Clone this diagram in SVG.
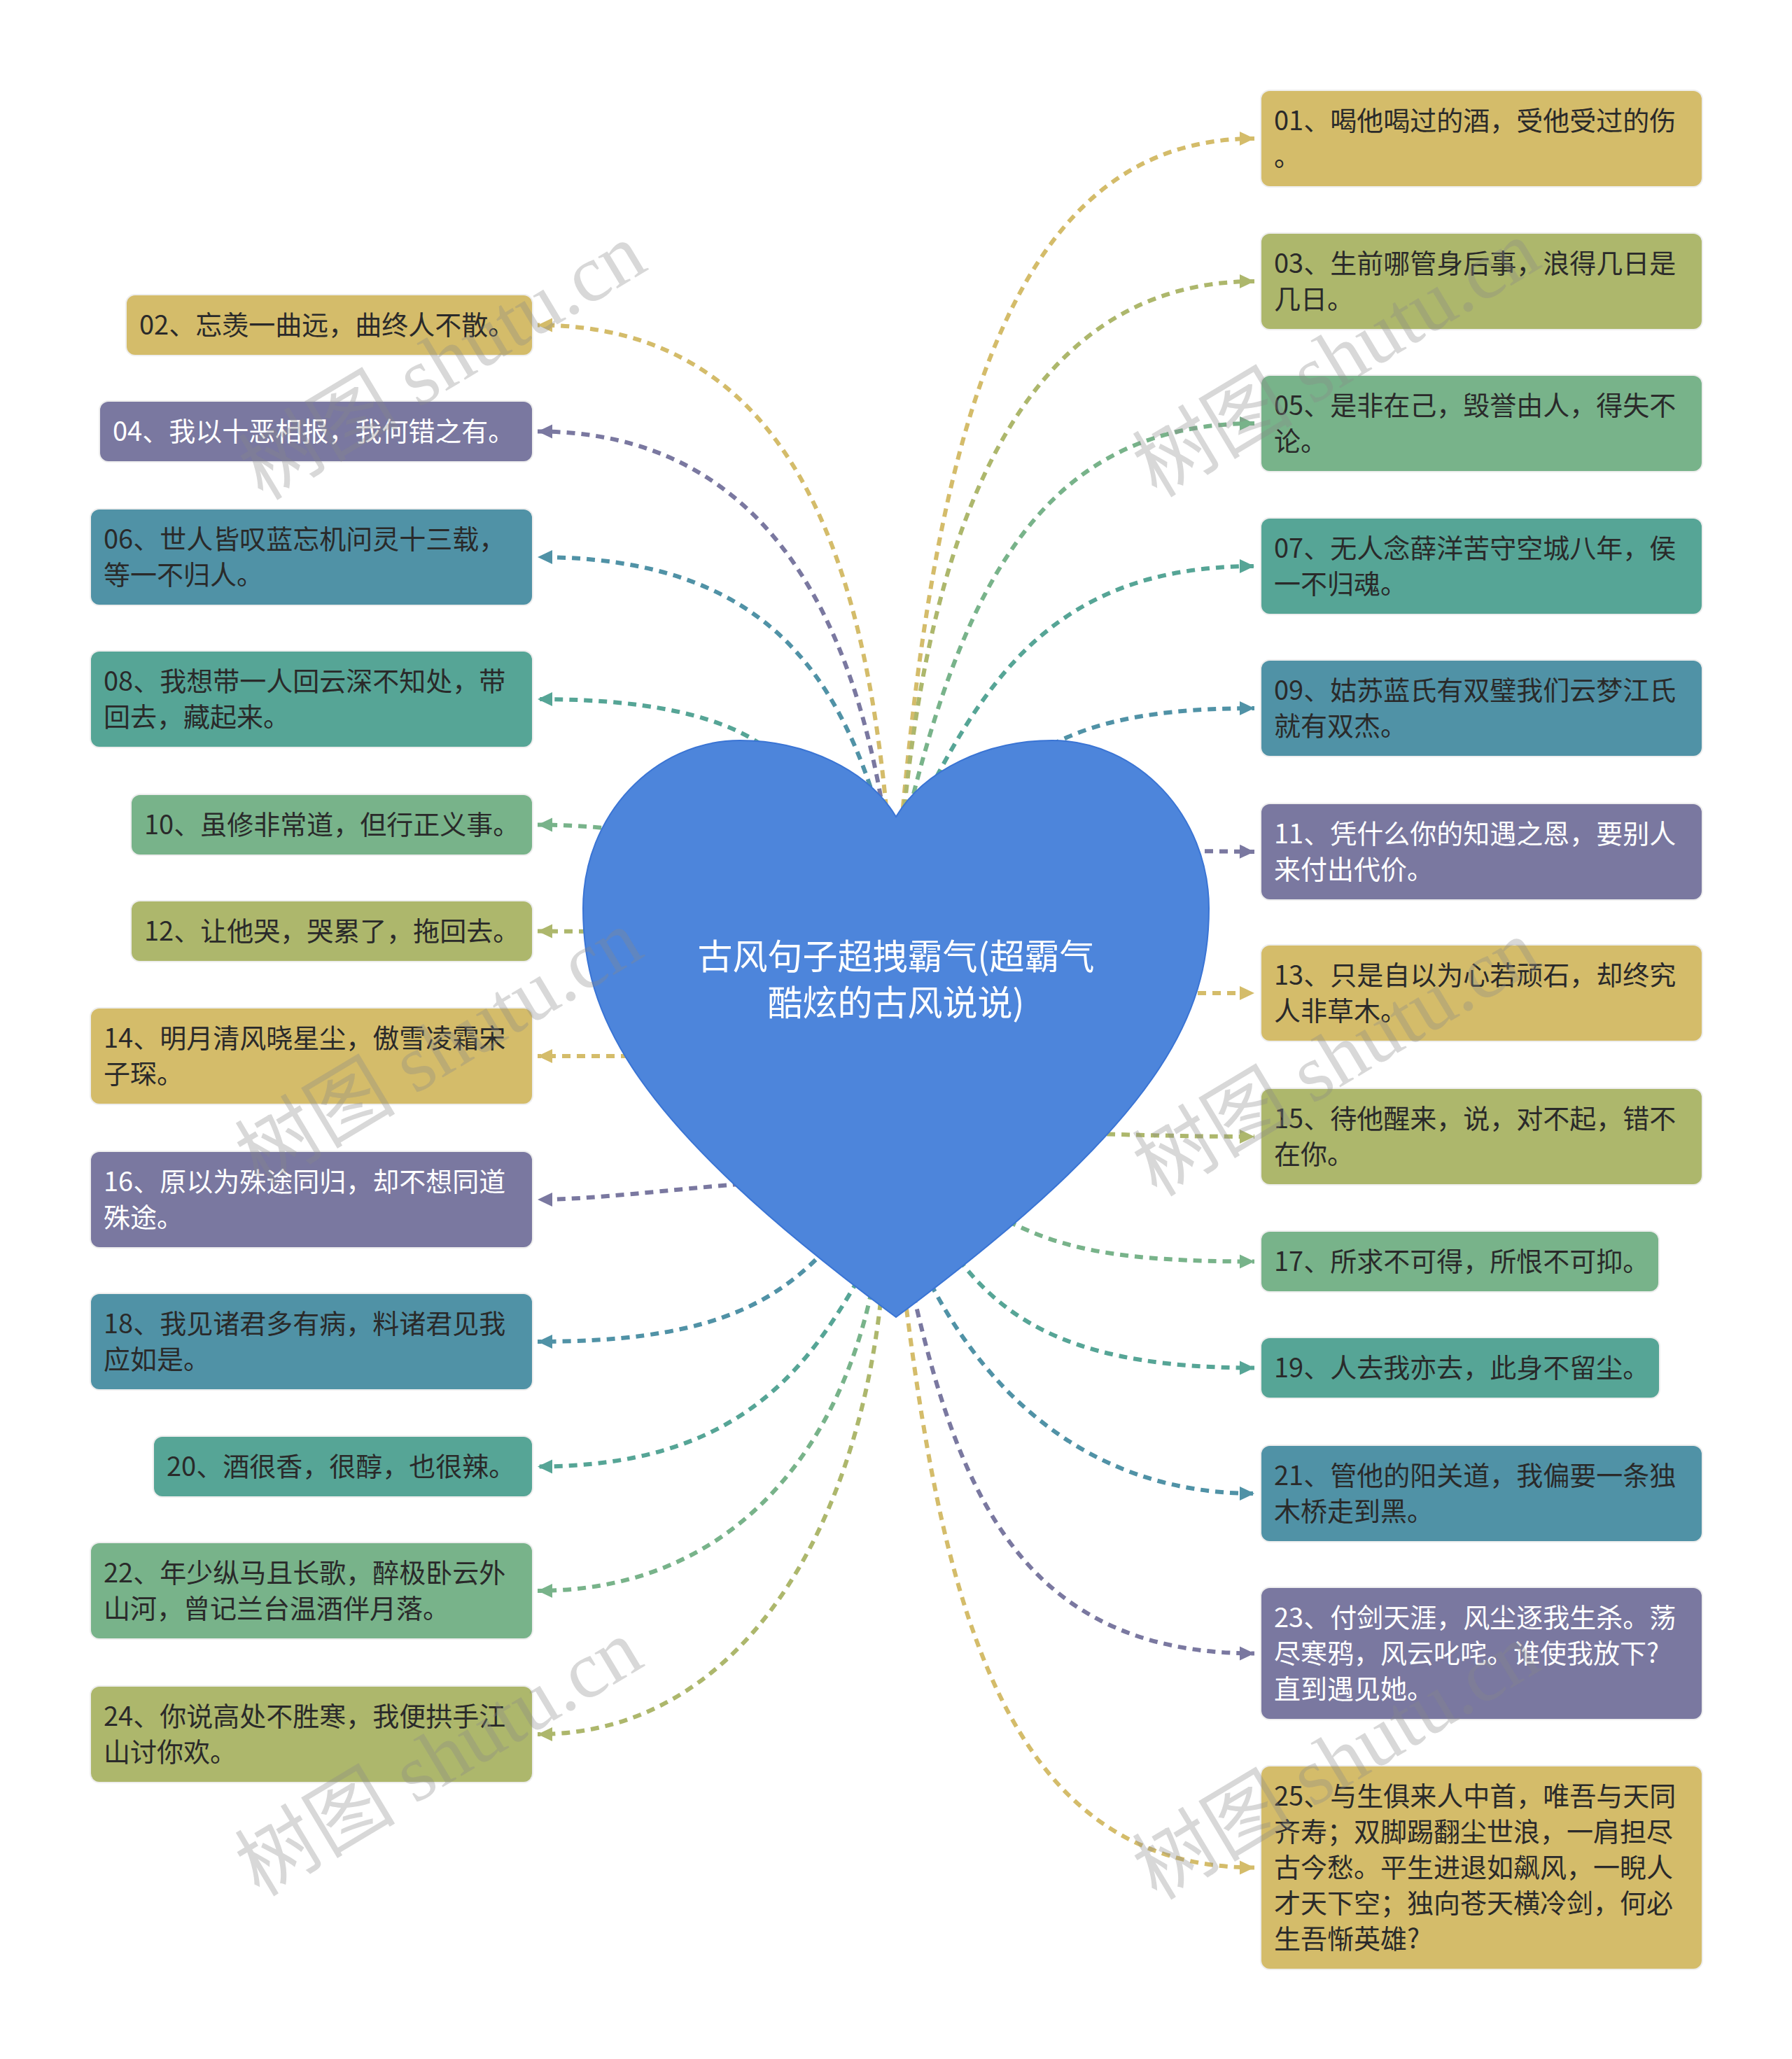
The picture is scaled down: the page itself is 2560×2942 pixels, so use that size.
<svg xmlns="http://www.w3.org/2000/svg" width="2560" height="2942" viewBox="0 0 2560 2942">
<style>
.box{stroke:#EEEEEE;stroke-width:4;paint-order:stroke}
.t{font-family:"Noto Sans CJK SC","Noto Sans",sans-serif;font-size:38px;fill:#2A2A2A}
.tw{fill:#FFFFFF}
.gold{fill:#D4BC6A}.olive{fill:#ADB76C}.green{fill:#78B38A}.teal{fill:#56A596}.blue{fill:#5092A6}.purple{fill:#7A78A0}
.c{fill:none;stroke-width:6;stroke-dasharray:12 9}
.cg{stroke:#D4BC6A;marker-end:url(#mg)}.co{stroke:#ADB76C;marker-end:url(#mo)}.cn{stroke:#78B38A;marker-end:url(#mn)}
.ct{stroke:#56A596;marker-end:url(#mt)}.cb{stroke:#5092A6;marker-end:url(#mb)}.cp{stroke:#7A78A0;marker-end:url(#mp)}
.wm{font-family:"Liberation Serif","Noto Sans CJK SC",serif;font-size:115px;fill:#8A8A8A;fill-opacity:0.33}
</style>
<defs>
<marker id="mg" markerUnits="userSpaceOnUse" markerWidth="24" markerHeight="24" viewBox="0 0 24 24" refX="22" refY="12" orient="auto"><path d="M1,2 L22,12 L1,22 Z" fill="#D4BC6A"/></marker>
<marker id="mo" markerUnits="userSpaceOnUse" markerWidth="24" markerHeight="24" viewBox="0 0 24 24" refX="22" refY="12" orient="auto"><path d="M1,2 L22,12 L1,22 Z" fill="#ADB76C"/></marker>
<marker id="mn" markerUnits="userSpaceOnUse" markerWidth="24" markerHeight="24" viewBox="0 0 24 24" refX="22" refY="12" orient="auto"><path d="M1,2 L22,12 L1,22 Z" fill="#78B38A"/></marker>
<marker id="mt" markerUnits="userSpaceOnUse" markerWidth="24" markerHeight="24" viewBox="0 0 24 24" refX="22" refY="12" orient="auto"><path d="M1,2 L22,12 L1,22 Z" fill="#56A596"/></marker>
<marker id="mb" markerUnits="userSpaceOnUse" markerWidth="24" markerHeight="24" viewBox="0 0 24 24" refX="22" refY="12" orient="auto"><path d="M1,2 L22,12 L1,22 Z" fill="#5092A6"/></marker>
<marker id="mp" markerUnits="userSpaceOnUse" markerWidth="24" markerHeight="24" viewBox="0 0 24 24" refX="22" refY="12" orient="auto"><path d="M1,2 L22,12 L1,22 Z" fill="#7A78A0"/></marker>
</defs>
<rect width="2560" height="2942" fill="#FFFFFF"/>
<g id="connectors">
<path class="c cg" d="M1288 1175 C1340 600,1450 198,1792 198"/>
<path class="c co" d="M1290 1175 C1330 750,1460 402,1792 402"/>
<path class="c cn" d="M1295 1175 C1380 820,1500 605,1792 605"/>
<path class="c ct" d="M1300 1185 C1400 980,1500 809,1792 809"/>
<path class="c cb" d="M1450 1100 C1520 1040,1620 1012,1792 1012"/>
<path class="c cp" d="M1700 1216 L1792 1217"/>
<path class="c cg" d="M1690 1419 L1792 1419"/>
<path class="c co" d="M1560 1620 C1640 1622,1700 1624,1792 1624"/>
<path class="c cn" d="M1440 1745 C1520 1785,1600 1802.5,1792 1802.5"/>
<path class="c ct" d="M1370 1800 C1440 1890,1540 1954.5,1792 1954.5"/>
<path class="c cb" d="M1330 1835 C1400 1970,1540 2134,1792 2134"/>
<path class="c cp" d="M1305 1850 C1370 2130,1460 2362.5,1792 2362.5"/>
<path class="c cg" d="M1295 1870 C1350 2300,1440 2668.5,1792 2668.5"/>
<path class="c cg" d="M1268 1175 C1235 800,1130 464.5,768 464.5"/>
<path class="c cp" d="M1265 1180 C1220 880,1090 616.5,768 616.5"/>
<path class="c cb" d="M1262 1185 C1200 960,1090 796,768 796"/>
<path class="c ct" d="M1120 1090 C1060 1030,950 999,768 999"/>
<path class="c cn" d="M880 1185 C840 1180,800 1178.5,768 1178.5"/>
<path class="c co" d="M860 1331 L768 1330.5"/>
<path class="c cg" d="M920 1509 L768 1509"/>
<path class="c cp" d="M1080 1690 C950 1700,850 1714,768 1714"/>
<path class="c cb" d="M1180 1785 C1100 1870,1000 1917,768 1917"/>
<path class="c ct" d="M1225 1830 C1150 1960,1050 2095.5,768 2095.5"/>
<path class="c cn" d="M1245 1845 C1195 2080,1040 2273,768 2273"/>
<path class="c co" d="M1258 1860 C1220 2200,1050 2478,768 2478"/>
</g>
<g id="root">
<path d="M1280 1167 C1240 1100,1150 1058,1057 1058 C935 1058,833 1165,833 1298 C833 1450,900 1600,1280 1882 C1660 1600,1727 1450,1727 1298 C1727 1165,1625 1058,1503 1058 C1410 1058,1320 1100,1280 1167 Z" fill="#4D85DB" stroke="#3A74D4" stroke-width="2"/>
<text x="1280" y="1385" text-anchor="middle" style="font-family:'Noto Sans CJK SC','Noto Sans',sans-serif;font-size:50px;fill:#FFFFFF">古风句子超拽霸气(超霸气</text>
<text x="1280" y="1451" text-anchor="middle" style="font-family:'Noto Sans CJK SC','Noto Sans',sans-serif;font-size:50px;fill:#FFFFFF">酷炫的古风说说)</text>
</g>
<g id="n01"><rect class="box gold" x="1802" y="130" width="629" height="136" rx="12"/><text class="t"><tspan x="1820" y="186">01、喝他喝过的酒，受他受过的伤</tspan><tspan x="1820" y="237">。</tspan></text></g>
<g id="n03"><rect class="box olive" x="1802" y="334" width="629" height="136" rx="12"/><text class="t"><tspan x="1820" y="390">03、生前哪管身后事，浪得几日是</tspan><tspan x="1820" y="441">几日。</tspan></text></g>
<g id="n05"><rect class="box green" x="1802" y="537" width="629" height="136" rx="12"/><text class="t"><tspan x="1820" y="593">05、是非在己，毁誉由人，得失不</tspan><tspan x="1820" y="644">论。</tspan></text></g>
<g id="n07"><rect class="box teal" x="1802" y="741" width="629" height="136" rx="12"/><text class="t"><tspan x="1820" y="797">07、无人念薛洋苦守空城八年，侯</tspan><tspan x="1820" y="848">一不归魂。</tspan></text></g>
<g id="n09"><rect class="box blue" x="1802" y="944" width="629" height="136" rx="12"/><text class="t"><tspan x="1820" y="1000">09、姑苏蓝氏有双璧我们云梦江氏</tspan><tspan x="1820" y="1051">就有双杰。</tspan></text></g>
<g id="n11"><rect class="box purple" x="1802" y="1149" width="629" height="136" rx="12"/><text class="t tw"><tspan x="1820" y="1205">11、凭什么你的知遇之恩，要别人</tspan><tspan x="1820" y="1256">来付出代价。</tspan></text></g>
<g id="n13"><rect class="box gold" x="1802" y="1351" width="629" height="136" rx="12"/><text class="t"><tspan x="1820" y="1407">13、只是自以为心若顽石，却终究</tspan><tspan x="1820" y="1458">人非草木。</tspan></text></g>
<g id="n15"><rect class="box olive" x="1802" y="1556" width="629" height="136" rx="12"/><text class="t"><tspan x="1820" y="1612">15、待他醒来，说，对不起，错不</tspan><tspan x="1820" y="1663">在你。</tspan></text></g>
<g id="n17"><rect class="box green" x="1802" y="1760" width="567" height="85" rx="12"/><text class="t"><tspan x="1820" y="1816">17、所求不可得，所恨不可抑。</tspan></text></g>
<g id="n19"><rect class="box teal" x="1802" y="1912" width="568" height="85" rx="12"/><text class="t"><tspan x="1820" y="1968">19、人去我亦去，此身不留尘。</tspan></text></g>
<g id="n21"><rect class="box blue" x="1802" y="2066" width="629" height="136" rx="12"/><text class="t"><tspan x="1820" y="2122">21、管他的阳关道，我偏要一条独</tspan><tspan x="1820" y="2173">木桥走到黑。</tspan></text></g>
<g id="n23"><rect class="box purple" x="1802" y="2269" width="629" height="187" rx="12"/><text class="t tw"><tspan x="1820" y="2325">23、付剑天涯，风尘逐我生杀。荡</tspan><tspan x="1820" y="2376">尽寒鸦，风云叱咤。谁使我放下?</tspan><tspan x="1820" y="2427">直到遇见她。</tspan></text></g>
<g id="n25"><rect class="box gold" x="1802" y="2524" width="629" height="289" rx="12"/><text class="t"><tspan x="1820" y="2580">25、与生俱来人中首，唯吾与天同</tspan><tspan x="1820" y="2631">齐寿；双脚踢翻尘世浪，一肩担尽</tspan><tspan x="1820" y="2682">古今愁。平生进退如飙风，一睨人</tspan><tspan x="1820" y="2733">才天下空；独向苍天横冷剑，何必</tspan><tspan x="1820" y="2784">生吾惭英雄?</tspan></text></g>
<g id="n02"><rect class="box gold" x="181" y="422" width="579" height="85" rx="12"/><text class="t"><tspan x="199" y="478">02、忘羡一曲远，曲终人不散。</tspan></text></g>
<g id="n04"><rect class="box purple" x="143" y="574" width="617" height="85" rx="12"/><text class="t tw"><tspan x="161" y="630">04、我以十恶相报，我何错之有。</tspan></text></g>
<g id="n06"><rect class="box blue" x="130" y="728" width="630" height="136" rx="12"/><text class="t"><tspan x="148" y="784">06、世人皆叹蓝忘机问灵十三载，</tspan><tspan x="148" y="835">等一不归人。</tspan></text></g>
<g id="n08"><rect class="box teal" x="130" y="931" width="630" height="136" rx="12"/><text class="t"><tspan x="148" y="987">08、我想带一人回云深不知处，带</tspan><tspan x="148" y="1038">回去，藏起来。</tspan></text></g>
<g id="n10"><rect class="box green" x="188" y="1136" width="572" height="85" rx="12"/><text class="t"><tspan x="206" y="1192">10、虽修非常道，但行正义事。</tspan></text></g>
<g id="n12"><rect class="box olive" x="188" y="1288" width="572" height="85" rx="12"/><text class="t"><tspan x="206" y="1344">12、让他哭，哭累了，拖回去。</tspan></text></g>
<g id="n14"><rect class="box gold" x="130" y="1441" width="630" height="136" rx="12"/><text class="t"><tspan x="148" y="1497">14、明月清风晓星尘，傲雪凌霜宋</tspan><tspan x="148" y="1548">子琛。</tspan></text></g>
<g id="n16"><rect class="box purple" x="130" y="1646" width="630" height="136" rx="12"/><text class="t tw"><tspan x="148" y="1702">16、原以为殊途同归，却不想同道</tspan><tspan x="148" y="1753">殊途。</tspan></text></g>
<g id="n18"><rect class="box blue" x="130" y="1849" width="630" height="136" rx="12"/><text class="t"><tspan x="148" y="1905">18、我见诸君多有病，料诸君见我</tspan><tspan x="148" y="1956">应如是。</tspan></text></g>
<g id="n20"><rect class="box teal" x="220" y="2053" width="540" height="85" rx="12"/><text class="t"><tspan x="238" y="2109">20、酒很香，很醇，也很辣。</tspan></text></g>
<g id="n22"><rect class="box green" x="130" y="2205" width="630" height="136" rx="12"/><text class="t"><tspan x="148" y="2261">22、年少纵马且长歌，醉极卧云外</tspan><tspan x="148" y="2312">山河，曾记兰台温酒伴月落。</tspan></text></g>
<g id="n24"><rect class="box olive" x="130" y="2410" width="630" height="136" rx="12"/><text class="t"><tspan x="148" y="2466">24、你说高处不胜寒，我便拱手江</tspan><tspan x="148" y="2517">山讨你欢。</tspan></text></g>
<g id="watermark">
<text class="wm" text-anchor="middle" transform="translate(652 550) rotate(-31)">树图 shutu.cn</text>
<text class="wm" text-anchor="middle" transform="translate(1929 546) rotate(-31)">树图 shutu.cn</text>
<text class="wm" text-anchor="middle" transform="translate(647 1531) rotate(-31)">树图 shutu.cn</text>
<text class="wm" text-anchor="middle" transform="translate(1929 1545) rotate(-31)">树图 shutu.cn</text>
<text class="wm" text-anchor="middle" transform="translate(647 2545) rotate(-31)">树图 shutu.cn</text>
<text class="wm" text-anchor="middle" transform="translate(1929 2550) rotate(-31)">树图 shutu.cn</text>
</g>
</svg>
